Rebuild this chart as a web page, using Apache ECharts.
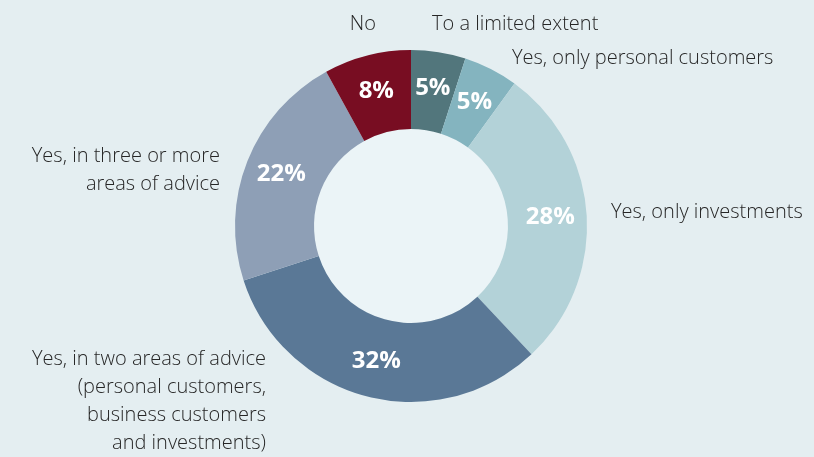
<!DOCTYPE html>
<html>
<head>
<meta charset="utf-8">
<script src="https://cdn.jsdelivr.net/npm/echarts@6/dist/echarts.min.js"></script>
<style>
  html, body { margin: 0; padding: 0; background: #e4eef1; }
  #chart { width: 814px; height: 457px; }
</style>
</head>
<body>
<div id="chart"></div>
<script>
// Answer categories, clockwise from 12 o'clock
const categories = [
  'To a limited extent',
  'Yes, only personal customers',
  'Yes, only investments',
  'Yes, in two areas of advice\n(personal customers,\nbusiness customers\nand investments)',
  'Yes, in three or more\nareas of advice',
  'No'
];
const shares = [5, 5, 28, 32, 22, 8];
const colors = ['#52767c', '#84b4bf', '#b3d2d8', '#5a7896', '#8e9fb6', '#780d22'];

// Where each category caption sits around the ring
const captionPlace = [
  { x: 432, y: 24, align: 'left' },
  { x: 512, y: 58, align: 'left' },
  { x: 611, y: 212, align: 'left' },
  { x: 266, y: 401, align: 'right' },
  { x: 220, y: 170, align: 'right' },
  { x: 376, y: 24, align: 'right' }
];

const data = categories.map((name, i) => ({
  name: name,
  value: shares[i],
  itemStyle: { color: colors[i] }
}));

const chart = echarts.init(document.getElementById('chart'));
chart.setOption({
  backgroundColor: '#e4eef1',
  animation: false,
  graphic: [{
    type: 'circle',
    shape: { cx: 411, cy: 226, r: 97 },
    style: { fill: '#ebf4f7' },
    silent: true,
    z: 0
  }],
  series: [
    {
      type: 'pie',
      center: [411, 226],
      radius: [97, 176],
      startAngle: 90,
      clockwise: true,
      data: data,
      label: {
        position: 'inside',
        formatter: p => p.value + '%',
        color: '#ffffff',
        fontFamily: '"Open Sans", Lato, sans-serif',
        fontWeight: 'bold',
        fontSize: 24
      },
      labelLine: { show: false },
      z: 2
    },
    {
      type: 'pie',
      center: [411, 226],
      radius: [97, 176],
      startAngle: 90,
      clockwise: true,
      silent: true,
      data: data.map(d => ({ name: d.name, value: d.value, itemStyle: { color: 'rgba(0,0,0,0)' } })),
      label: {
        position: 'outside',
        formatter: p => p.name,
        color: '#262626',
        fontFamily: '"Open Sans", Lato, sans-serif',
        fontWeight: 300,
        fontSize: 20,
        lineHeight: 28,
        overflow: 'none',
        width: 400
      },
      edgeDistance: 0,
      labelLine: { show: false },
      labelLayout: params => {
        const c = captionPlace[params.dataIndex];
        return { x: c.x, y: c.y, align: c.align, verticalAlign: 'middle', hideOverlap: false };
      },
      z: 1
    }
  ]
});
</script>
</body>
</html>
